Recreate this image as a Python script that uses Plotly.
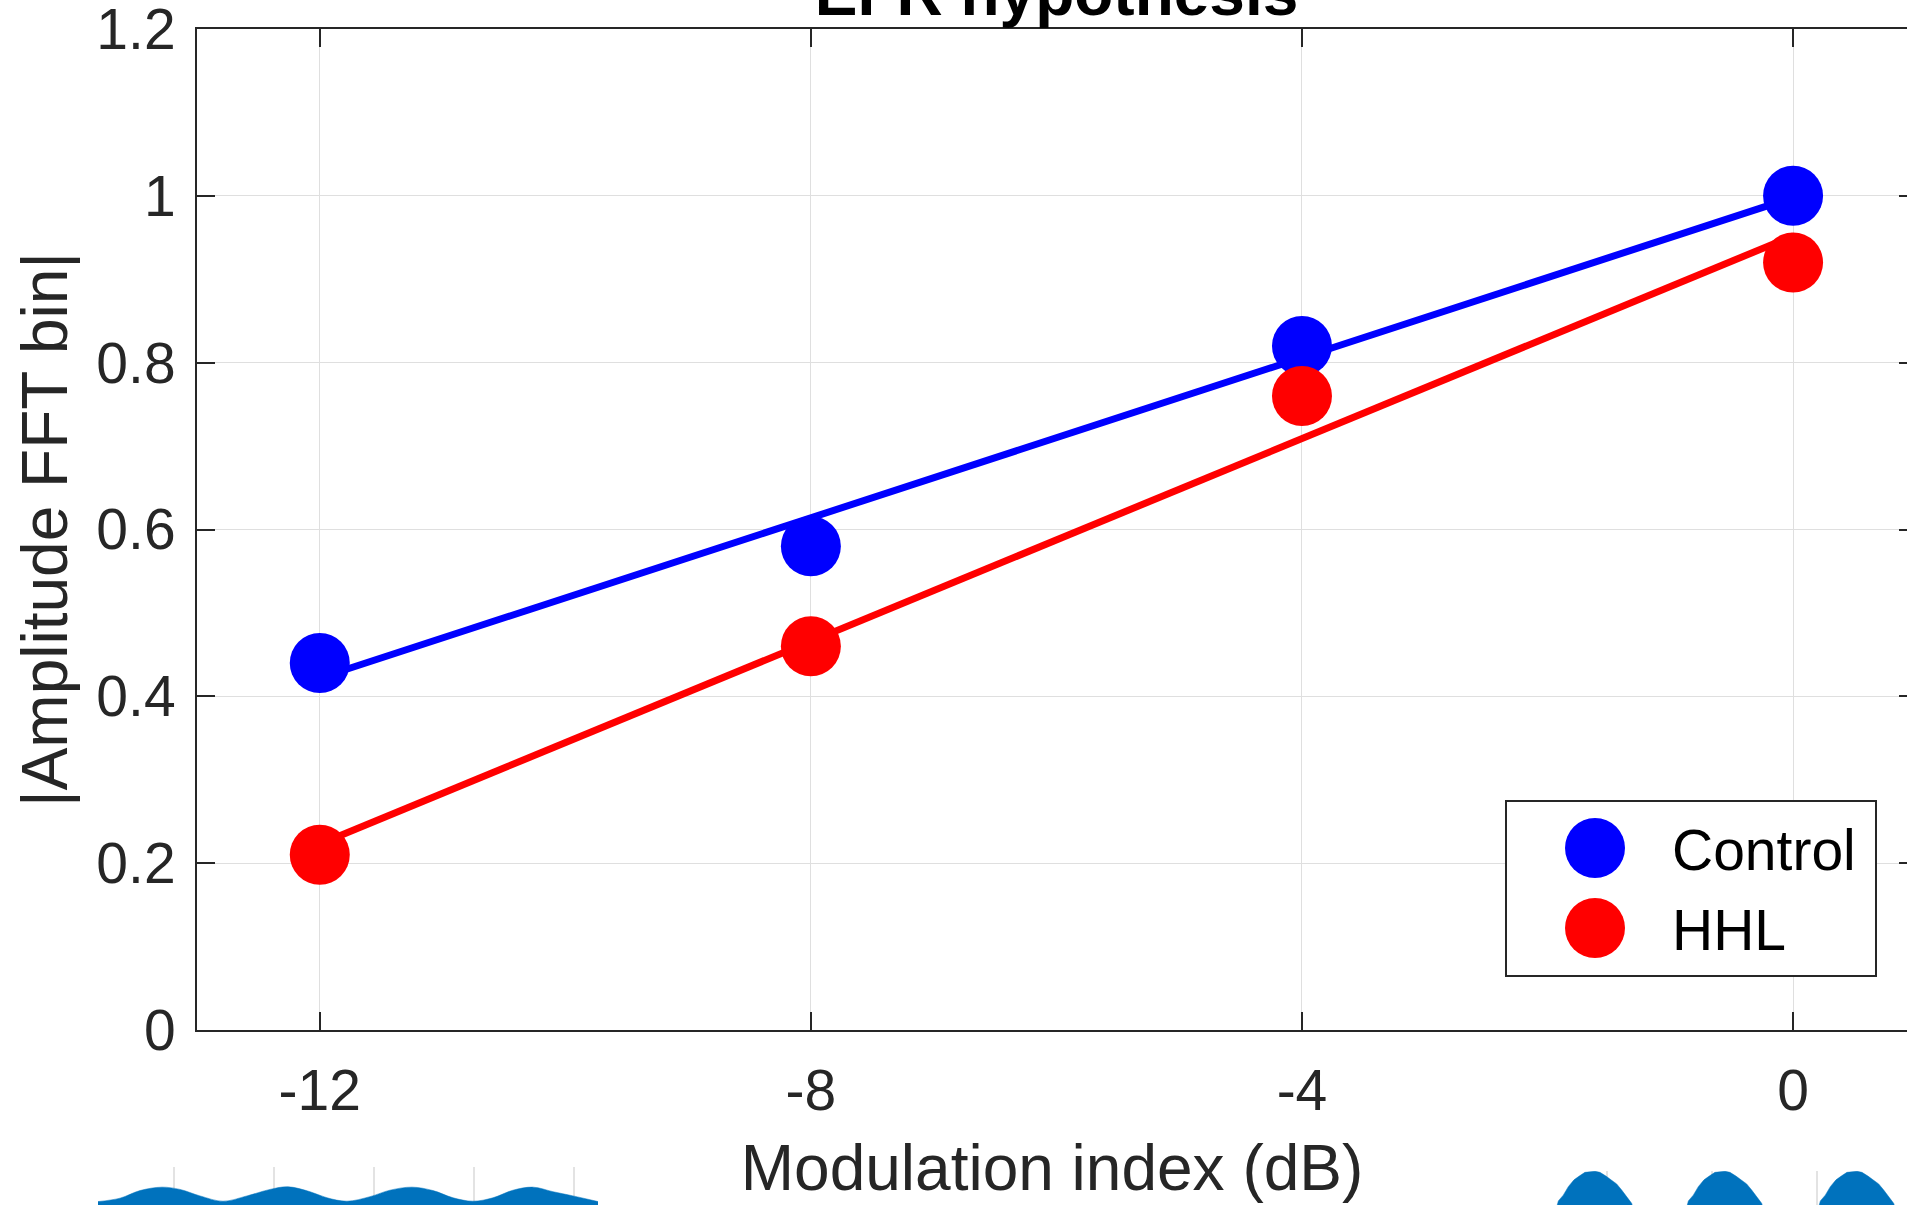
import numpy as np
import plotly.graph_objects as go

# ---------------- data ----------------
mod_index_db = [-12, -8, -4, 0]
control_amp = [0.44, 0.58, 0.82, 1.00]
hhl_amp = [0.21, 0.46, 0.76, 0.92]
x_tick_vals = [-12, -8, -4, 0]
x_tick_text = ["-12", "-8", "-4", "0"]
y_tick_vals = [0, 0.2, 0.4, 0.6, 0.8, 1.0, 1.2]
y_tick_text = ["0", "0.2", "0.4", "0.6", "0.8", "1", "1.2"]

# inset waveform envelopes (arbitrary time units, visible-height units)
wave_lo_t = [-0.76, -0.54, -0.34, -0.12, 0.06, 0.26, 0.49, 0.73, 0.96, 1.14, 1.36, 1.53,
             1.73, 1.96, 2.16, 2.38, 2.59, 2.79, 2.99, 3.19, 3.39, 3.59, 3.79, 3.99, 4.24]
wave_lo_v = [0.09, 0.18, 0.38, 0.47, 0.41, 0.24, 0.10, 0.24, 0.41, 0.48, 0.35, 0.19,
             0.10, 0.22, 0.39, 0.47, 0.38, 0.19, 0.10, 0.19, 0.39, 0.47, 0.35, 0.24, 0.09]
wave_hi_t = [-0.733, -0.50, -0.463, -0.416, -0.368, -0.314, -0.264, -0.210, -0.114, -0.067,
             -0.010, 0.045, 0.092, 0.140, 0.187, 0.235, 0.27, 0.50, 0.74, 0.775, 0.822,
             0.870, 0.924, 0.974, 1.028, 1.124, 1.171, 1.228, 1.283, 1.330, 1.378, 1.425,
             1.473, 1.51, 1.75, 1.995, 2.032, 2.079, 2.127, 2.181, 2.231, 2.285, 2.381,
             2.428, 2.485, 2.540, 2.587, 2.635, 2.682, 2.730, 2.77, 2.857]
wave_hi_v = [-0.3, -0.3, 0.12, 0.29, 0.54, 0.74, 0.85, 0.96, 0.99, 0.96,
             0.85, 0.74, 0.62, 0.44, 0.24, 0.05, -0.3, -0.3, -0.3, 0.12, 0.29,
             0.54, 0.74, 0.85, 0.96, 0.99, 0.96, 0.85, 0.74, 0.62, 0.44, 0.24,
             0.05, -0.3, -0.3, -0.3, 0.12, 0.29, 0.54, 0.74, 0.85, 0.96, 0.99,
             0.96, 0.85, 0.74, 0.62, 0.44, 0.24, 0.05, -0.3, -0.3]

# ---------------- styles ----------------
W, H = 1907, 1205
FONT = "Arial, Liberation Sans, Helvetica, sans-serif"
AX_COLOR = "#262626"
GRID = "#dfdfdf"
BLUE = "#0000ff"
RED = "#ff0000"
WAVE = "#0072bd"


def px_x(p):
    return p / W


def px_y(p):
    return 1 - p / H


cfit = np.polyfit(mod_index_db, control_amp, 1)
hfit = np.polyfit(mod_index_db, hhl_amp, 1)
fit_x = [min(mod_index_db), max(mod_index_db)]

fig = go.Figure()
fig.add_trace(go.Scatter(x=mod_index_db, y=control_amp, mode="markers", name="Control",
                         marker=dict(size=60, color=BLUE, line=dict(width=0)), showlegend=False))
fig.add_trace(go.Scatter(x=mod_index_db, y=hhl_amp, mode="markers", name="HHL",
                         marker=dict(size=60, color=RED, line=dict(width=0)), showlegend=False))
fig.add_trace(go.Scatter(x=fit_x, y=np.polyval(cfit, fit_x), mode="lines",
                         line=dict(color=BLUE, width=7), showlegend=False, hoverinfo="skip"))
fig.add_trace(go.Scatter(x=fit_x, y=np.polyval(hfit, fit_x), mode="lines",
                         line=dict(color=RED, width=7), showlegend=False, hoverinfo="skip"))

fig.add_trace(go.Scatter(x=wave_lo_t, y=wave_lo_v, mode="lines", fill="tozeroy",
                         line=dict(color=WAVE, width=0.5, shape="spline"), fillcolor=WAVE,
                         xaxis="x3", yaxis="y3", showlegend=False, hoverinfo="skip"))
fig.add_trace(go.Scatter(x=wave_hi_t, y=wave_hi_v, mode="lines", fill="tozeroy",
                         line=dict(color=WAVE, width=0.5), fillcolor=WAVE,
                         xaxis="x4", yaxis="y4", showlegend=False, hoverinfo="skip"))
fig.add_trace(go.Scatter(x=[None], y=[None], yaxis="y2", showlegend=False, hoverinfo="skip"))

plot_left, plot_top, plot_bottom = 197, 29, 1030

inset_axis = dict(showticklabels=False, ticks="", showgrid=True, gridcolor="#e3e3e3",
                  gridwidth=1.5, zeroline=False, showline=False, automargin=False)

fig.update_layout(
    template="none",
    width=W, height=H,
    margin=dict(l=0, r=0, t=0, b=0, pad=0, autoexpand=False),
    paper_bgcolor="white", plot_bgcolor="white",
    font=dict(family=FONT, color=AX_COLOR, size=57),
    showlegend=False,
    title=dict(text="<b>EFR hypothesis</b>", font=dict(size=64, color="black", family=FONT),
               x=(plot_left + 1916) / 2 / W, xanchor="center", xref="paper",
               y=px_y(15), yanchor="bottom", yref="container", automargin=False),
    xaxis=dict(domain=[px_x(plot_left), 1.0], range=[-13, 0.928],
               tickvals=x_tick_vals, ticktext=x_tick_text,
               ticks="inside", ticklen=18, tickwidth=1.5, tickcolor=AX_COLOR,
               showline=True, linecolor=AX_COLOR, linewidth=2, mirror="ticks",
               showgrid=True, gridcolor=GRID, gridwidth=1, zeroline=False,
               tickfont=dict(size=57, color=AX_COLOR), ticklabelstandoff=10,
               ticklabeloverflow="allow", automargin=False,
               title=dict(text="Modulation index (dB)", font=dict(size=64, color=AX_COLOR), standoff=24)),
    yaxis=dict(domain=[px_y(plot_bottom), px_y(plot_top)], range=[0, 1.2],
               tickvals=y_tick_vals, ticktext=y_tick_text,
               ticks="inside", ticklen=18, tickwidth=1.5, tickcolor=AX_COLOR,
               showline=True, linecolor=AX_COLOR, linewidth=2, mirror=False,
               showgrid=True, gridcolor=GRID, gridwidth=1, zeroline=False,
               tickfont=dict(size=57, color=AX_COLOR), ticklabelstandoff=8,
               ticklabeloverflow="allow", automargin=False,
               title=dict(text="|Amplitude FFT bin|", font=dict(size=64, color=AX_COLOR), standoff=8)),
    yaxis2=dict(overlaying="y", side="right", anchor="free", position=1.0,
                range=[0, 1.2], tickvals=y_tick_vals, showticklabels=False,
                ticks="inside", ticklen=8, tickwidth=1.5, tickcolor=AX_COLOR,
                showline=False, showgrid=False, zeroline=False, automargin=False),
    xaxis3=dict(domain=[px_x(98), px_x(598)], range=[-0.76, 4.24], anchor="y3",
                tickvals=[0, 1, 2, 3, 4], **inset_axis),
    yaxis3=dict(domain=[0, px_y(1167)], range=[0, 1], anchor="x3", tickvals=[1], **inset_axis),
    xaxis4=dict(domain=[px_x(1530), 1.0], range=[-0.733, 2.857], anchor="y4",
                tickvals=[0, 1, 2], **inset_axis),
    yaxis4=dict(domain=[0, px_y(1171)], range=[0, 1], anchor="x4", tickvals=[1], **inset_axis),
)

# legend drawn as a boxed key (big markers as in the original)
shapes = [dict(type="rect", xref="paper", yref="paper",
               x0=px_x(1506), x1=px_x(1876), y0=px_y(976), y1=px_y(801),
               line=dict(color=AX_COLOR, width=2), fillcolor="white", layer="above")]
legend_items = [("Control", BLUE, 848), ("HHL", RED, 928)]
annotations = []
for label, color, cy in legend_items:
    shapes.append(dict(type="circle", xref="paper", yref="paper",
                       xsizemode="pixel", ysizemode="pixel",
                       xanchor=px_x(1595), yanchor=px_y(cy),
                       x0=-30, x1=30, y0=-30, y1=30,
                       line=dict(width=0), fillcolor=color, layer="above"))
    annotations.append(dict(text=label, xref="paper", yref="paper",
                            x=px_x(1670), y=px_y(cy + 2), xanchor="left", yanchor="middle",
                            showarrow=False, font=dict(size=57, color="black", family=FONT)))
fig.update_layout(shapes=shapes, annotations=annotations)

fig.write_html("out.html")
